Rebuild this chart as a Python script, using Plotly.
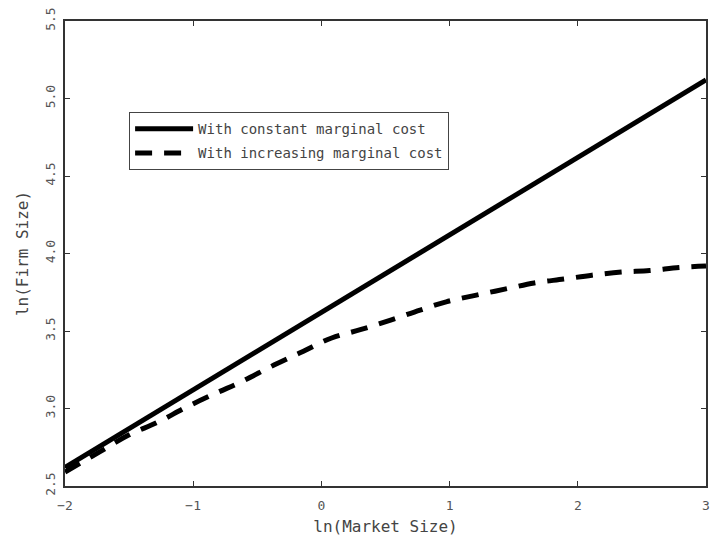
import plotly.graph_objects as go

# Data
x_const = [-2.0, -1.5, -1.0, -0.5, 0.0, 0.5, 1.0, 1.5, 2.0, 2.5, 3.0]
y_const = [2.62, 2.87, 3.12, 3.37, 3.62, 3.87, 4.12, 4.37, 4.62, 4.87, 5.12]

x_incr = [-2.0, -1.73, -1.50, -1.28, -1.05, -0.82, -0.63, -0.37, -0.14, 0.08, 0.31,
          0.54, 0.77, 0.98, 1.20, 1.43, 1.66, 1.89, 2.11, 2.34, 2.56, 2.79, 3.0]
y_incr = [2.59, 2.72, 2.83, 2.91, 3.01, 3.10, 3.17, 3.28, 3.37, 3.455, 3.51,
          3.57, 3.635, 3.69, 3.73, 3.77, 3.81, 3.835, 3.86, 3.88, 3.89, 3.91, 3.92]

x_ticks = [-2, -1, 0, 1, 2, 3]
x_ticklabels = ["\u22122", "\u22121", "0", "1", "2", "3"]
y_ticks = [2.5, 3.0, 3.5, 4.0, 4.5, 5.0, 5.5]
y_ticklabels = ["2.5", "3.0", "3.5", "4.0", "4.5", "5.0", "5.5"]

FONT = "DejaVu Sans Mono"

fig = go.Figure()
fig.add_trace(go.Scatter(x=x_const, y=y_const, mode="lines",
                         name="With constant marginal cost", legendgroup="a",
                         line=dict(color="black", width=5)))
fig.add_trace(go.Scatter(x=x_incr, y=y_incr, mode="lines",
                         name="With increasing marginal cost", legendgroup="b",
                         line=dict(color="black", width=5, dash="17px,12px", shape="spline")))

axis_common = dict(showline=True, linecolor="#333", linewidth=1.5, mirror="ticks",
                   ticks="inside", ticklen=5, tickcolor="#333", showgrid=False,
                   zeroline=False, automargin=False, ticklabeloverflow="allow",
                   tickfont=dict(family=FONT, size=13, color="#555"))

fig.update_xaxes(range=[-2, 3], tickvals=x_ticks, ticktext=x_ticklabels,
                 ticklabelstandoff=7,
                 title=dict(text="ln(Market Size)", font=dict(family=FONT, size=16, color="#444"),
                            standoff=8),
                 **axis_common)
fig.update_yaxes(range=[2.5, 5.5], tickvals=y_ticks, ticktext=y_ticklabels, tickangle=-90,
                 ticklabelstandoff=3,
                 title=dict(text="ln(Firm Size)", font=dict(family=FONT, size=16, color="#444"),
                            standoff=10),
                 **axis_common)

fig.update_layout(
    width=712, height=542,
    margin=dict(l=65, r=6, t=21, b=56),
    plot_bgcolor="white", paper_bgcolor="white",
    showlegend=True,
    legend=dict(x=0.1, y=0.804, xanchor="left", yanchor="top",
                bgcolor="white", bordercolor="#444", borderwidth=1,
                font=dict(family=FONT, size=14, color="#444"),
                tracegroupgap=3, itemwidth=58),
)

fig.write_html("out.html", config={"displayModeBar": False},
               post_script="document.body.style.margin='0';")
